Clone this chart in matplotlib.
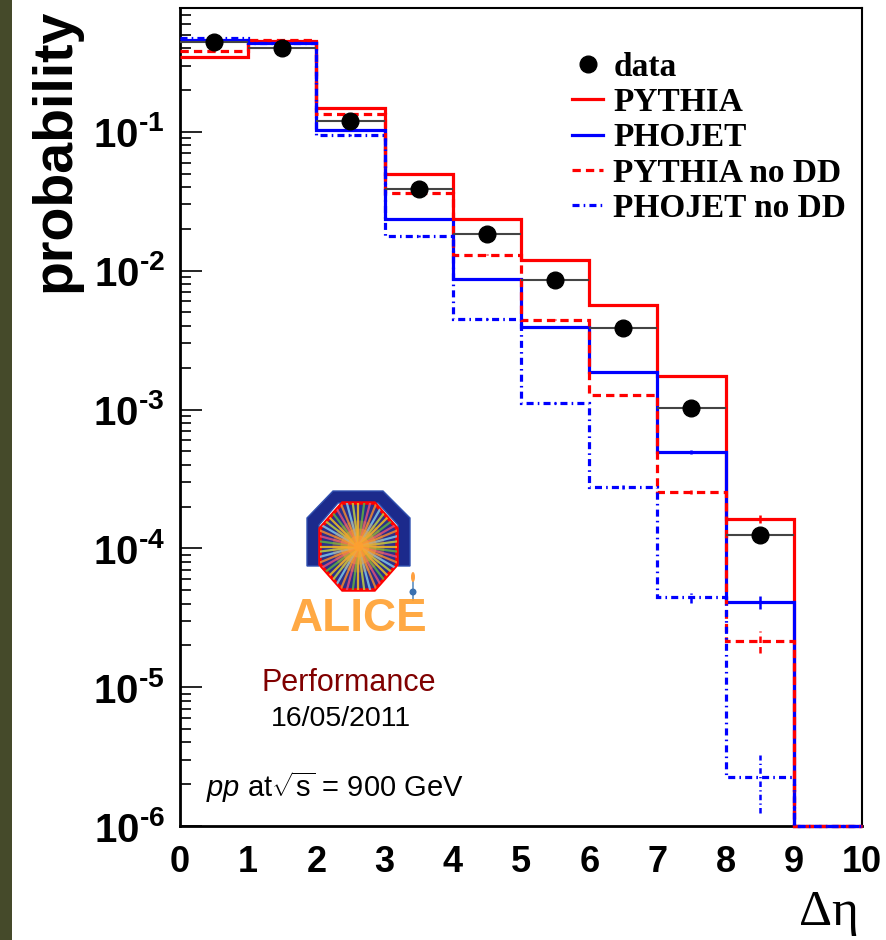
"""
Delta-eta gap distribution, pp at 900 GeV: data vs PYTHIA / PHOJET
(with and without double-diffraction), log-scale probability.
"""
import numpy as np
import matplotlib
matplotlib.use('Agg')
import matplotlib.pyplot as plt
from matplotlib.lines import Line2D
from matplotlib.patches import Polygon, Circle, Ellipse, Rectangle
from matplotlib.ticker import FixedLocator, LogLocator, NullFormatter

plt.rcParams['font.family'] = ['Liberation Sans', 'DejaVu Sans']
plt.rcParams['mathtext.fontset'] = 'custom'
plt.rcParams['mathtext.rm'] = 'Liberation Sans'
plt.rcParams['mathtext.it'] = 'Liberation Sans:italic'
plt.rcParams['mathtext.bf'] = 'Liberation Sans:bold'

# ---- histograms: 10 unit bins in delta-eta ---------------------------------
edges = np.arange(0, 11)
centers = edges[:-1] + 0.5

data = [0.445, 0.40, 0.12, 0.0388, 0.0184, 0.0086, 0.00387, 0.00103, 1.25e-4]
data_err = [0.01, 0.01, 0.003, 0.001, 0.0005, 0.0002, 0.0001, 3e-5, 1.0e-5]

pythia = [0.347, 0.453, 0.149, 0.0498, 0.0236, 0.0120, 0.00568, 0.00175, 1.63e-4, 0]
phojet = [0.46, 0.438, 0.103, 0.0236, 0.0087, 0.00394, 0.00187, 4.95e-4, 4.1e-5, 0]
pythia_nodd = [0.384, 0.46, 0.135, 0.0364, 0.0130, 0.00443, 0.00127, 2.54e-4, 2.15e-5, 0]
phojet_nodd = [0.475, 0.44, 0.095, 0.0178, 0.0045, 0.00112, 2.77e-4, 4.47e-5, 2.25e-6, 0]

pythia_err = [0.003, 0.003, 0.001, 0.0004, 0.0002, 0.0001, 6e-5, 3e-5, 1.2e-5, 0]
phojet_err = [0.003, 0.003, 0.001, 0.0003, 0.0001, 5e-5, 3e-5, 1.5e-5, 4.5e-6, 0]
pythia_nodd_err = [0.003, 0.003, 0.001, 0.0003, 0.0001, 5e-5, 2e-5, 8e-6, 3.9e-6, 0]
phojet_nodd_err = [0.003, 0.003, 0.001, 0.0002, 6e-5, 2e-5, 1e-5, 4e-6, 1.0e-6, 0]

YMIN, YMAX = 1e-6, 0.78
ytick_vals = [1e-6, 1e-5, 1e-4, 1e-3, 1e-2, 1e-1]
ytick_exps = [-6, -5, -4, -3, -2, -1]

RED = '#ff0000'
BLUE = '#0000ff'
DASH = (0, (2.6, 1.6))
DASHDOT = (0, (2.2, 1.3, 0.5, 1.3))

W, H = 887, 940
fig = plt.figure(figsize=(W / 100, H / 100), dpi=100)
fig.patch.set_facecolor('white')


def px(x, y):
    """pixel position (from top-left) -> figure fraction"""
    return x / W, 1 - y / H


# olive strip on the left edge
fig.add_artist(Rectangle((0, 0), 12 / W, 1, transform=fig.transFigure,
                         facecolor='#454a2a', edgecolor='none'))

ax = fig.add_axes([180 / W, 1 - 826 / H, 682 / W, 818 / H])
ax.set_yscale('log')
ax.set_xlim(0, 10)
ax.set_ylim(YMIN, YMAX)


def draw_mc(vals, errs, color, ls, z):
    v = np.maximum(np.asarray(vals, float), YMIN)
    ax.stairs(v, edges, baseline=None, color=color, lw=2.3, linestyle=ls,
              zorder=z, clip_on=False)
    e = np.asarray(errs, float)
    m = np.asarray(vals) > 0
    eb = ax.errorbar(centers[m], v[m], yerr=e[m], fmt='none', ecolor=color,
                     elinewidth=1.8, zorder=z)
    eb[2][0].set_linestyle(ls)


draw_mc(pythia, pythia_err, RED, '-', 3)
draw_mc(phojet, phojet_err, BLUE, '-', 4)
draw_mc(pythia_nodd, pythia_nodd_err, RED, DASH, 5)
draw_mc(phojet_nodd, phojet_nodd_err, BLUE, DASHDOT, 6)

ax.errorbar(centers[:len(data)], data, xerr=0.5, yerr=data_err, fmt='o',
            color='black', ms=12, ecolor='#444444', elinewidth=1.5, zorder=8)

# axes cosmetics
for s in ax.spines.values():
    s.set_linewidth(1.5)
ax.spines['left'].set_linewidth(2)
ax.spines['bottom'].set_linewidth(2)
ax.yaxis.set_major_locator(FixedLocator(ytick_vals))
# short hyphen (U+2010) in the exponent instead of the wide math minus
ax.set_yticklabels(['$\\mathbf{10^{\u2010%d}}$' % -e for e in ytick_exps])
ax.yaxis.set_minor_locator(LogLocator(base=10, subs=np.arange(2, 10)))
ax.yaxis.set_minor_formatter(NullFormatter())
ax.tick_params(axis='y', which='major', direction='in', length=16, width=1.2,
               labelsize=29, pad=11)
ax.tick_params(axis='y', which='minor', direction='in', length=8, width=1.2)
ax.set_xticks(np.arange(0, 11))
ax.set_xticklabels([str(i) for i in range(11)], fontweight='bold')
ax.tick_params(axis='x', length=0, labelsize=26, pad=14)

fig.text(*px(55, 150), 'probability', rotation=90, fontsize=40,
         fontweight='bold', ha='center', va='center')
fig.text(*px(829, 913), 'Δη', family='Liberation Serif', fontsize=37,
         ha='center', va='center')

# legend
handles = [
    Line2D([], [], color='black', marker='o', ms=12, ls='none'),
    Line2D([], [], color=RED, lw=2.3),
    Line2D([], [], color=BLUE, lw=2.3),
    Line2D([], [], color=RED, lw=2.3, ls=DASH),
    Line2D([], [], color=BLUE, lw=2.3, ls=DASHDOT),
]
labels = ['data', 'PYTHIA', 'PHOJET', 'PYTHIA no DD', 'PHOJET no DD']
ax.legend(handles, labels, loc='upper left', bbox_to_anchor=(0.55, 0.967),
          frameon=False, borderpad=0, handlelength=0.95, handletextpad=0.3,
          labelspacing=0.13, prop={'family': 'Liberation Serif',
                                   'weight': 'bold', 'size': 24})

# ALICE logo
la = fig.add_axes([290 / W, 1 - 645 / H, 145 / W, 160 / H])
la.set_xlim(290, 435)
la.set_ylim(645, 485)
la.set_axis_off()

arch = Polygon([(307, 566), (307, 518), (333, 491), (383, 491), (410, 518),
                (410, 566), (398, 566), (398, 525), (378, 503), (338, 503),
                (319, 525), (319, 566)], closed=True,
               facecolor='#1c2a8c', edgecolor='#3050b0', lw=1)
la.add_patch(arch)

cx, cy, hx, hy = 358.5, 546.5, 38.5, 43.5
ang = np.deg2rad(22.5 + 45 * np.arange(8))
r = 1 / np.cos(np.deg2rad(22.5))
octo = np.column_stack([cx + hx * r * np.cos(ang), cy + hy * r * np.sin(ang)])
la.add_patch(Polygon(octo, closed=True, facecolor='#2b2f8a',
                     edgecolor=RED, lw=2.5, zorder=2))
clip = Polygon(octo, closed=True, transform=la.transData)
ray_cols = ['#f2c020', '#5fb040', '#e0507a', '#f08a30', '#7ec8e8', '#c0d040']
for k in range(48):
    a = 2 * np.pi * k / 48
    ln, = la.plot([cx, cx + 60 * np.cos(a)], [cy, cy + 60 * np.sin(a)],
                  color=ray_cols[k % len(ray_cols)], lw=1.6, alpha=0.85,
                  zorder=3)
    ln.set_clip_path(clip)
for rad, al in [(26, 0.25), (18, 0.4), (11, 0.6), (5, 0.85)]:
    la.add_patch(Circle((cx, cy), rad, facecolor='#ffa030', edgecolor='none',
                        alpha=al, zorder=4))
la.plot([413, 413], [574, 600], color='#6090c0', lw=1.2, zorder=3)
la.add_patch(Ellipse((413, 577), 4, 10, facecolor='#ffa040', zorder=4))
la.add_patch(Ellipse((413, 592), 7, 7, facecolor='#3a70b0', zorder=4))
la.text(359, 619, 'ALICE', color='#ffa030', fontsize=33, fontweight='bold',
        ha='center', va='center', alpha=0.9)

fig.text(*px(349, 683), 'Performance', color='#800000', fontsize=22,
         ha='center', va='center')
fig.text(*px(341, 719), '16/05/2011', color='black', fontsize=20.5,
         ha='center', va='center')
fig.text(*px(206, 787), r'$pp$ at$\sqrt{\mathrm{s}}$ = 900 GeV', fontsize=21,
         ha='left', va='center')

fig.savefig('out.png', dpi=100, facecolor='white')
